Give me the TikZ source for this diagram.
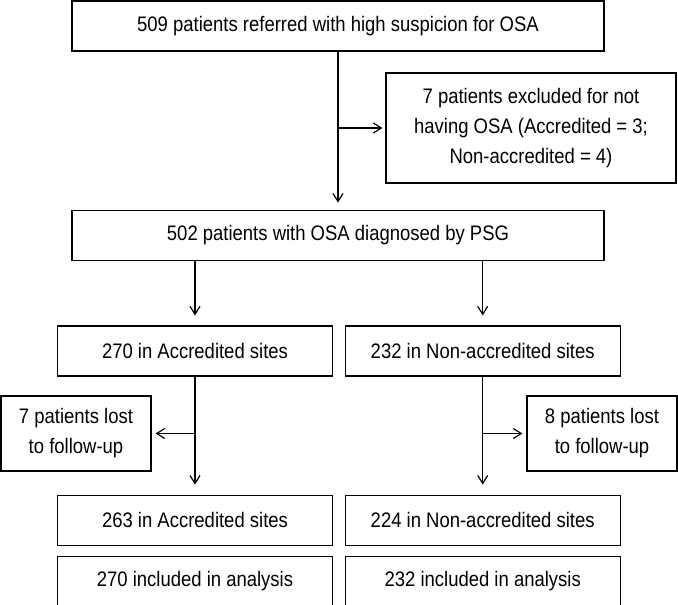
\documentclass[tikz,border=0pt]{standalone}
\usepackage{fontspec}
\setmainfont{Liberation Sans}[FakeStretch=0.88]
\usetikzlibrary{positioning, arrows.meta}

\begin{document}
\begin{tikzpicture}[x=1pt,y=-1pt,
    line width=1.2pt,
    >={Straight Barb[length=8pt,width=10pt,line width=1.2pt]},
    box/.style={draw, rectangle, align=center, inner sep=0pt,
                font=\fontsize{21}{30}\selectfont},
    wide/.style={box, minimum width=532pt, minimum height=50pt},
    site/.style={box, minimum width=275pt, minimum height=50pt},
    lost/.style={box, minimum width=150pt, minimum height=75pt}]

   \useasboundingbox (0,0) rectangle (678,605);

   \node[wide] (ref) at (338,26) {509 patients referred with high suspicion for OSA};
   \node[box, minimum width=290pt, minimum height=110pt] (excl) at (531,128)
        {7 patients excluded for not\\having OSA (Accredited = 3;\\Non-accredited = 4)};
   \node[wide] (psg) [below=158pt of ref] {502 patients with OSA diagnosed by PSG};

   \node[site] (acc) at (195,351) {270 in Accredited sites};
   \node[site] (non) [right=11.5pt of acc] {232 in Non-accredited sites};
   \node[lost] (lostA) at (76,433.5) {7 patients lost\\to follow-up};
   \node[lost] (lostN) at (602,433.5) {8 patients lost\\to follow-up};
   \node[site] (acc2) [below=118pt of acc] {263 in Accredited sites};
   \node[site] (non2) [below=118pt of non] {224 in Non-accredited sites};
   \node[site] (accF) [below=10pt of acc2] {270 included in analysis};
   \node[site] (nonF) [below=10pt of non2] {232 included in analysis};

   \coordinate (j0) at (ref.south |- excl.west);
   \coordinate (jA) at (acc.south |- lostA.east);
   \coordinate (jN) at (non.south |- lostN.west);

   \draw[->, shorten >=7pt] (ref.south) -- (psg.north);
   \draw[->, shorten >=3pt] (j0) -- (excl.west);
   \draw[->, shorten >=10pt] (psg.south -| acc.north) -- (acc.north);
   \draw[->, shorten >=10pt] (psg.south -| non.north) -- (non.north);
   \draw[->, shorten >=10pt] (acc.south) -- (acc2.north);
   \draw[->, shorten >=10pt] (non.south) -- (non2.north);
   \draw[->, shorten >=4pt] (jA) -- (lostA.east);
   \draw[->, shorten >=4pt] (jN) -- (lostN.west);
\end{tikzpicture}
\end{document}
